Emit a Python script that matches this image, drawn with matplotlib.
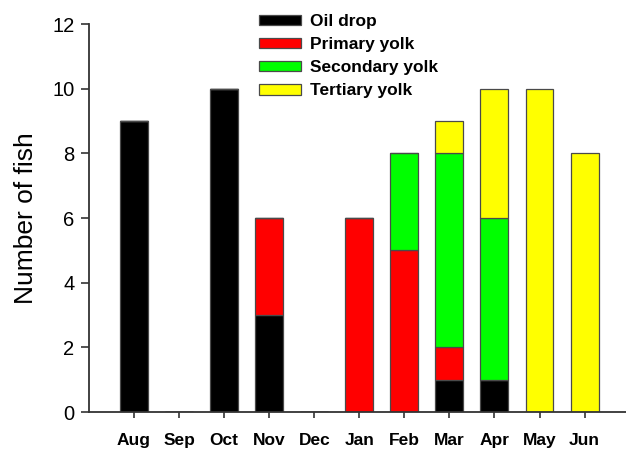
import numpy as np
import matplotlib
matplotlib.use("Agg")
import matplotlib.pyplot as plt

months = ["Aug", "Sep", "Oct", "Nov", "Dec", "Jan", "Feb", "Mar", "Apr", "May", "Jun"]
oil_drop = [9, 0, 10, 3, 0, 0, 0, 1, 1, 0, 0]
primary_yolk = [0, 0, 0, 3, 0, 6, 5, 1, 0, 0, 0]
secondary_yolk = [0, 0, 0, 0, 0, 0, 3, 6, 5, 0, 0]
tertiary_yolk = [0, 0, 0, 0, 0, 0, 0, 1, 4, 10, 8]

stages = [
    ("Oil drop", oil_drop, "#000000"),
    ("Primary yolk", primary_yolk, "#FF0000"),
    ("Secondary yolk", secondary_yolk, "#00FF00"),
    ("Tertiary yolk", tertiary_yolk, "#FFFF00"),
]

plt.rcParams["font.family"] = ["Liberation Sans", "DejaVu Sans"]

W, H = 626, 449
fig = plt.figure(figsize=(W / 100, H / 100), dpi=100)
ax = fig.add_axes([89 / W, (H - 412) / H, (W - 89) / W, (412 - 24) / H])

x = np.arange(len(months))
bottom = np.zeros(len(months))
handles = []
for name, vals, col in stages:
    vals = np.array(vals, dtype=float)
    b = ax.bar(x, vals, width=0.62, bottom=bottom, color=col,
               edgecolor="#4a4a4a", linewidth=0.9, label=name)
    handles.append(b)
    bottom += vals

ax.set_xlim(-1.0, 10.92)
ax.set_ylim(0, 12)
ax.set_yticks([0, 2, 4, 6, 8, 10, 12])
ax.set_xticks(x)
ax.set_xticklabels(months, fontsize=12.5, fontweight="bold")
ax.tick_params(axis="y", labelsize=14.5, direction="out", length=5.5, width=1.1,
               pad=5, color="#222222")
ax.tick_params(axis="x", direction="out", length=4, width=1.1, pad=11,
               color="#222222")
ax.set_ylabel("Number of fish", fontsize=19, labelpad=10)

for s in ["top", "right"]:
    ax.spines[s].set_visible(False)
for s in ["left", "bottom"]:
    ax.spines[s].set_linewidth(1.3)
    ax.spines[s].set_color("#333333")

leg = fig.legend(handles=handles, loc="upper left",
                 bbox_to_anchor=(259 / W, (H - 14) / H),
                 bbox_transform=fig.transFigure, frameon=False,
                 borderpad=0, borderaxespad=0,
                 prop={"size": 12.5, "weight": "bold"},
                 handlelength=2.4, handleheight=0.55, handletextpad=0.55,
                 labelspacing=0.47)

fig.savefig("out.png", dpi=100)
